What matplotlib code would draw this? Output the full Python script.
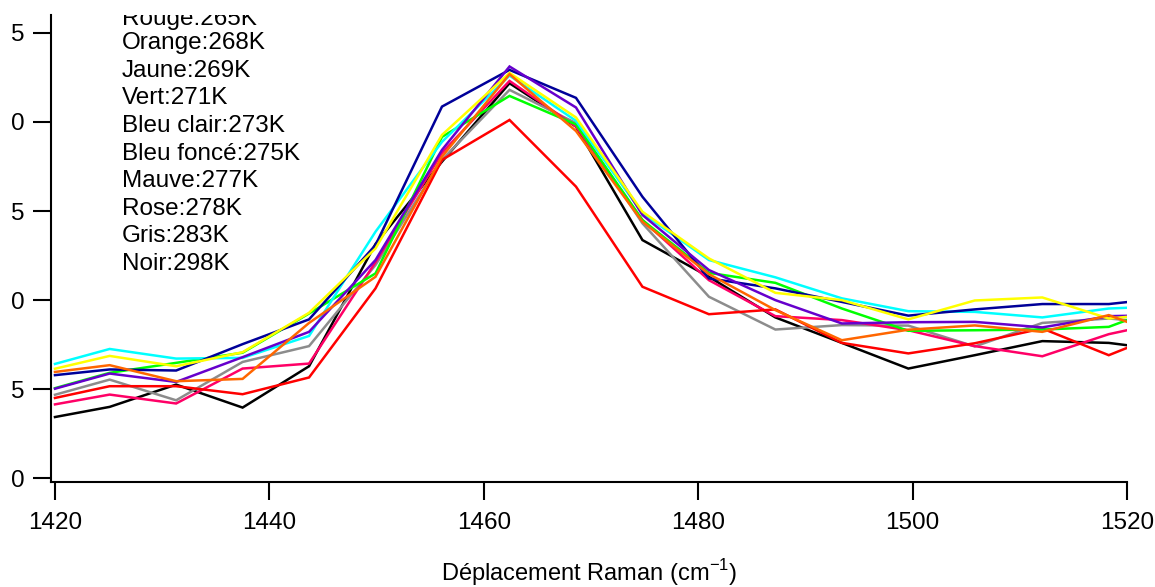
import matplotlib
matplotlib.use("Agg")
import matplotlib.pyplot as plt

plt.rcParams['font.family'] = ['Liberation Sans', 'DejaVu Sans']
plt.rcParams['mathtext.fontset'] = 'custom'
plt.rcParams['mathtext.rm'] = 'Liberation Sans'

# Raman shift (cm-1)
shift = [1420.0, 1425.1, 1431.3, 1437.5, 1443.7, 1449.9, 1456.1, 1462.4, 1468.6,
         1474.8, 1481.0, 1487.2, 1493.4, 1499.6, 1505.8, 1512.1, 1518.3, 1520.0]

rouge = [4.51, 5.17, 5.17, 4.72, 5.66, 10.66, 17.87, 20.11, 16.37,
         10.75, 9.21, 9.48, 7.60, 7.01, 7.58, 8.41, 6.91, 7.32]
orange = [5.97, 6.35, 5.45, 5.58, 8.72, 11.31, 18.05, 22.68, 19.49,
          14.40, 11.46, 9.44, 7.75, 8.34, 8.58, 8.22, 9.16, 8.78]
jaune = [6.15, 6.87, 6.29, 7.08, 9.29, 12.90, 19.27, 22.75, 20.25,
         14.96, 12.34, 10.41, 10.00, 8.92, 9.98, 10.15, 8.97, 9.06]
vert = [5.06, 5.92, 6.48, 7.05, 9.25, 11.50, 19.16, 21.46, 19.86,
        14.49, 11.53, 10.97, 9.53, 8.28, 8.31, 8.35, 8.50, 8.88]
bleu_clair = [6.42, 7.26, 6.72, 6.76, 7.99, 13.84, 18.88, 22.60, 20.06,
              14.87, 12.25, 11.28, 10.10, 9.38, 9.34, 9.03, 9.53, 9.57]
bleu_fonce = [5.79, 6.11, 6.05, 7.53, 8.92, 13.09, 20.86, 22.92, 21.35,
              15.80, 11.22, 10.66, 9.90, 9.13, 9.48, 9.78, 9.78, 9.89]
mauve = [5.03, 5.88, 5.41, 6.80, 8.22, 12.25, 18.43, 23.11, 20.81,
         14.78, 11.69, 10.00, 8.69, 8.76, 8.78, 8.47, 9.10, 9.12]
rose = [4.15, 4.70, 4.20, 6.16, 6.44, 12.13, 18.26, 22.30, 19.74,
        14.49, 11.12, 9.10, 8.88, 8.31, 7.42, 6.85, 8.09, 8.31]
gris = [4.69, 5.54, 4.38, 6.53, 7.42, 11.97, 17.87, 21.80, 19.93,
        14.31, 10.19, 8.35, 8.60, 8.57, 7.40, 8.72, 8.97, 8.88]
noir = [3.44, 4.01, 5.26, 3.97, 6.29, 13.15, 17.77, 22.17, 19.74,
        13.37, 11.31, 9.03, 7.60, 6.16, 6.91, 7.70, 7.60, 7.47]

legend_labels = ["Rouge:265K", "Orange:268K", "Jaune:269K", "Vert:271K", "Bleu clair:273K",
                 "Bleu foncé:275K", "Mauve:277K", "Rose:278K", "Gris:283K", "Noir:298K"]

x_ticks = [1420, 1440, 1460, 1480, 1500, 1520]
y_ticks = [0, 5, 10, 15, 20, 25]
y_tick_labels = ["0", "5", "0", "5", "0", "5"]
x_label = "Déplacement Raman (cm$^{\\mathregular{-1}}$)"

W, H = 1155, 587
fig = plt.figure(figsize=(W / 100, H / 100), dpi=100)
left_px, right_px, top_px, bot_px = 50.7, 1127.0, 15.0, 481.9
ax = fig.add_axes([left_px / W, 1 - bot_px / H, (right_px - left_px) / W, (bot_px - top_px) / H])

series = [
    (noir, "#000000"),
    (gris, "#8c8c8c"),
    (rose, "#ff0066"),
    (rouge, "#ff0000"),
    (vert, "#00ff00"),
    (bleu_clair, "#00ffff"),
    (bleu_fonce, "#000099"),
    (mauve, "#6600cc"),
    (jaune, "#ffff00"),
    (orange, "#ff6600"),
]
for vals, col in series:
    ax.plot(shift, vals, color=col, lw=1.8, solid_joinstyle='miter')

ax.set_xlim(1419.6, 1520)
ax.set_ylim(-0.2, 26)
ax.set_xticks(x_ticks)
ax.set_yticks(y_ticks)
ax.set_yticklabels(y_tick_labels)
ax.spines['top'].set_visible(False)
ax.spines['right'].set_visible(False)
for s in ('left', 'bottom'):
    ax.spines[s].set_linewidth(1.5)
ax.tick_params(axis='both', direction='out', length=13, width=1.5, labelsize=17.5)
ax.tick_params(axis='y', pad=6)
ax.tick_params(axis='x', pad=9)
ax.set_xlabel(x_label, fontsize=17, labelpad=16)

# legend-like annotation text (clipped at the plot top)
ys = [24.5] + [49.3 + 27.6 * i for i in range(9)]
for lab, yb in zip(legend_labels, ys):
    ax.text(122 / W, 1 - yb / H, lab, transform=fig.transFigure, fontsize=17.5,
            ha='left', va='baseline', clip_on=True)

fig.savefig("out.png", dpi=100)
